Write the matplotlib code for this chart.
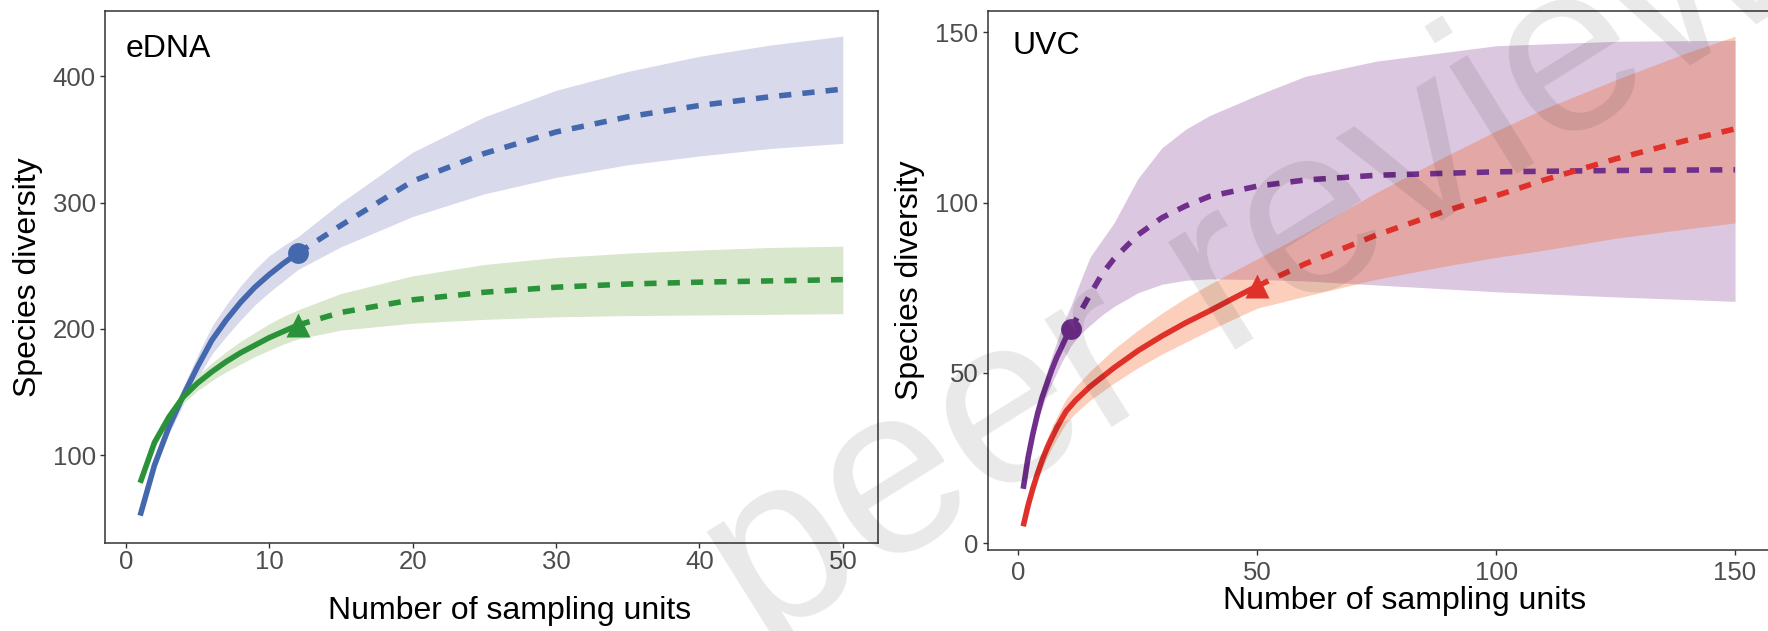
import matplotlib.pyplot as plt
import numpy as np

plt.rcParams['font.family'] = ['Liberation Sans', 'DejaVu Sans']

# eDNA rarefaction / extrapolation (observed sample size 12)
edna_x = [1, 2, 3, 4, 5, 6, 7, 8, 9, 10, 11, 12, 15, 20, 25, 30, 35, 40, 45, 50]
edna_obs = 12
blue_mean = [52, 92, 122, 147, 170, 191, 207, 221, 233, 243, 252, 260,
             282, 317, 339, 356, 368, 377, 384, 390]
blue_lo = [50, 88, 117, 140, 161, 180, 194, 207, 219, 229, 238, 247,
           265, 289, 307, 320, 330, 337, 343, 347]
blue_hi = [54, 96, 127, 154, 179, 202, 219, 234, 247, 258, 266, 273,
           300, 340, 368, 389, 404, 416, 425, 432]
green_mean = [78, 110, 130, 146, 157, 166, 174, 181, 187, 193, 198, 203,
              213, 223, 229, 233, 235.5, 237, 238, 239]
green_lo = [75, 106, 126, 141, 151, 159, 166, 172, 178, 183, 188, 192,
            199, 204.5, 207.5, 209.5, 210.5, 211, 211.5, 212]
green_hi = [81, 114, 134, 151, 163, 173, 182, 190, 197, 204, 210, 215,
            228, 242, 251, 256.5, 260, 262.5, 264.5, 265.5]

# UVC, purple series (observed sample size 11)
purple_x = [1, 2, 3, 4, 5, 6, 7, 8, 9, 10, 11, 13, 15, 17.5, 20, 25, 30, 35, 40, 50,
            60, 75, 100, 125, 150]
purple_obs = 11
purple_mean = [16, 25, 32, 38, 43, 47, 51, 54.5, 57.5, 60.5, 63, 68, 73, 79, 83.5,
               90.5, 95.5, 99, 101.8, 104.8, 106.6, 108, 109, 109.4, 109.6]
purple_lo = [15, 23, 30, 35.5, 40, 44, 47, 50, 53, 55.5, 58, 61.5, 64, 67, 69.5,
             73.5, 76, 77.2, 77.6, 77.4, 77, 75.8, 73.8, 72.3, 71]
purple_hi = [17, 27, 34, 40.5, 46, 50.5, 55, 59, 63, 66.5, 69.7, 77, 84, 89, 94,
             107, 116, 121.5, 125.5, 131.5, 137, 141.5, 146, 147.3, 147.6]

# UVC, red series (observed sample size 50)
red_x = [1, 2, 3, 4, 5, 6, 7, 8, 9, 10, 12, 15, 20, 25, 30, 35, 40, 45, 50,
         60, 75, 90, 100, 110, 125, 140, 150]
red_obs = 50
red_mean = [5, 11, 16, 20.5, 24.5, 28, 31, 33.8, 36.4, 38.8, 42, 46, 51.5, 56.5,
            60.8, 64.7, 68.2, 71.9, 75.5, 82, 90.5, 97.8, 102, 106.6, 112.8, 118.3, 121.6]
red_lo = [4.5, 10, 14.5, 18.5, 22, 25.3, 28, 30.6, 33, 35.3, 38.3, 42, 47, 51.5,
          55.5, 59, 62.5, 65.8, 69, 72.5, 77.5, 81.5, 83.9, 86, 89.5, 92.3, 94]
red_hi = [5.8, 12.3, 17.6, 22.6, 27, 30.8, 34, 37, 39.8, 42.4, 46, 50.5, 57, 62.5,
          67.5, 72, 76, 79.8, 83.5, 91, 103, 114, 121, 127.5, 136, 144, 148.8]

LW = 4.0
DASH = (2.2, 2.0)


def draw_curve(ax, x, mean, lo, hi, n_obs, color, band, marker, ms, band_alpha=1.0):
    x = np.asarray(x, float)
    mean = np.asarray(mean, float)
    ax.fill_between(x, lo, hi, color=band, alpha=band_alpha, lw=0, zorder=1)
    inter = x <= n_obs
    extra = x >= n_obs
    ax.plot(x[inter], mean[inter], color=color, lw=LW, solid_capstyle='butt',
            solid_joinstyle='round', zorder=3)
    ax.plot(x[extra], mean[extra], color=color, lw=LW, dashes=DASH,
            dash_capstyle='butt', zorder=3)
    y_obs = mean[x == n_obs][0]
    ax.plot([n_obs], [y_obs], marker=marker, ms=ms, color=color, mec='none', zorder=4)


def style_axes(ax, xpad, ypad):
    for s in ax.spines.values():
        s.set_color('#333333')
        s.set_linewidth(1.1)
    ax.tick_params(length=3.6, width=1, color='#333333', labelcolor='#4d4d4d',
                   labelsize=18.5)
    ax.tick_params(axis='x', pad=xpad)
    ax.tick_params(axis='y', pad=ypad)


fig = plt.figure(figsize=(17.68, 6.31), dpi=100)

# left panel: eDNA
ax1 = fig.add_axes([0.0594, 0.1395, 0.4372, 0.8431])
draw_curve(ax1, edna_x, blue_mean, blue_lo, blue_hi, edna_obs, '#4468ad', '#d9d9ec', 'o', 15)
draw_curve(ax1, edna_x, green_mean, green_lo, green_hi, edna_obs, '#2a9339', '#d9e7cd', '^', 17)
ax1.set_xlim(-1.45, 52.45)
ax1.set_ylim(30.3, 451.9)
ax1.set_xticks([0, 10, 20, 30, 40, 50])
ax1.set_yticks([100, 200, 300, 400])
style_axes(ax1, 1.5, 3)
ax1.set_xlabel('Number of sampling units', fontsize=23)
ax1.set_ylabel('Species diversity', fontsize=23)
ax1.xaxis.set_label_coords(0.524, -0.0996)
ax1.yaxis.set_label_coords(-0.080, 0.50)
ax1.text(0.027, 0.928, 'eDNA', transform=ax1.transAxes, fontsize=23, va='center')

# right panel: UVC
ax2 = fig.add_axes([0.5586, 0.1276, 0.4429, 0.855])
draw_curve(ax2, purple_x, purple_mean, purple_lo, purple_hi, purple_obs, '#6f2f8b', '#dcc7e0', 'o', 15)
draw_curve(ax2, red_x, red_mean, red_lo, red_hi, red_obs, '#e0302a', '#f56223', '^', 17,
           band_alpha=0.3)
ax2.set_xlim(-6.45, 157.45)
ax2.set_ylim(-2.1, 156.2)
ax2.set_xticks([0, 50, 100, 150])
ax2.set_yticks([0, 50, 100, 150])
style_axes(ax2, 4, 3)
ax2.set_xlabel('Number of sampling units', fontsize=23)
ax2.set_ylabel('Species diversity', fontsize=23)
ax2.xaxis.set_label_coords(0.533, -0.0658)
ax2.yaxis.set_label_coords(-0.080, 0.501)
ax2.text(0.032, 0.935, 'UVC', transform=ax2.transAxes, fontsize=23, va='center')

# preprint watermark across the figure
fig.text(0.43, -0.025, 'peer reviewed', rotation=32, rotation_mode='anchor',
         ha='left', va='baseline', fontsize=172, color='black', alpha=0.09, zorder=10)

fig.savefig('out.png', dpi=100)
